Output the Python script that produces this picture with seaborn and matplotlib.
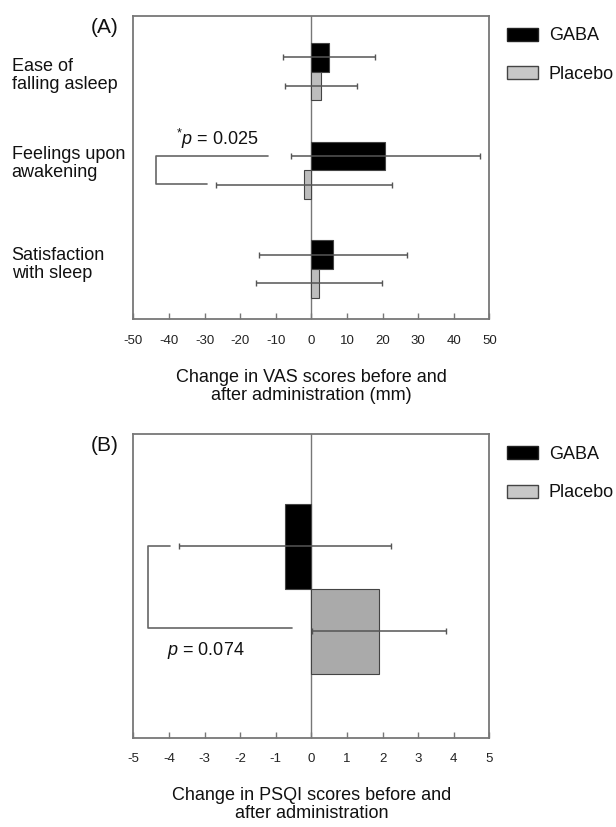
import pandas as pd
import matplotlib.pyplot as plt
import matplotlib.transforms as mtransforms
import seaborn as sns
from matplotlib.patches import Patch

# Panel A: VAS scores (mm)
vas_items = ["Ease of\nfalling asleep", "Feelings upon\nawakening", "Satisfaction\nwith sleep"]
vas_gaba = [5.0, 20.8, 6.1]
vas_gaba_sd = [13.0, 26.5, 20.9]
vas_placebo = [2.7, -2.1, 2.2]
vas_placebo_sd = [10.0, 24.7, 17.7]

# Panel B: PSQI scores
psqi_gaba = -0.74
psqi_gaba_sd = 2.98
psqi_placebo = 1.9
psqi_placebo_sd = 1.87

groups = ["GABA", "Placebo"]

sns.set_theme(style="white")
plt.rcParams['font.family'] = ['Liberation Sans', 'DejaVu Sans']
plt.rcParams['mathtext.fontset'] = 'custom'
plt.rcParams['mathtext.rm'] = 'Liberation Sans'
plt.rcParams['mathtext.it'] = 'Liberation Sans:italic'
plt.rcParams['text.color'] = '#111111'
plt.rcParams['axes.labelcolor'] = '#111111'
plt.rcParams['xtick.color'] = '#222222'
plt.rcParams['ytick.color'] = '#111111'

vas_df = pd.DataFrame({
    "item": vas_items * 2,
    "group": ["GABA"] * 3 + ["Placebo"] * 3,
    "change": vas_gaba + vas_placebo,
})
psqi_df = pd.DataFrame({
    "item": ["PSQI", "PSQI"],
    "group": groups,
    "change": [psqi_gaba, psqi_placebo],
})

fig = plt.figure(figsize=(6.16, 8.27), dpi=100)
ax1 = fig.add_axes([0.2164, 0.6139, 0.578, 0.3668])
ax2 = fig.add_axes([0.2164, 0.1080, 0.578, 0.3669])

edge = '#444444'
grey = '#777777'


def style_axis(ax, lim, ticks, xlabel):
    ax.axvline(0, color=grey, lw=1, zorder=1)
    ax.set_xlim(-lim, lim)
    ax.set_xticks(ticks)
    ax.set_xticklabels([str(t) for t in ticks], fontsize=9.5)
    ax.tick_params(axis='x', direction='in', length=4, width=1, color=grey, pad=11, bottom=True)
    for s in ax.spines.values():
        s.set_color(grey)
        s.set_linewidth(1.3)
    ax.set_xlabel(xlabel, fontsize=13, labelpad=16, linespacing=1.1)
    if ax.get_legend() is not None:
        ax.get_legend().remove()
    handles = [Patch(facecolor='black', edgecolor='#222222'),
               Patch(facecolor='#c8c8c8', edgecolor=edge)]
    ax.legend(handles, groups, loc='upper left', bbox_to_anchor=(1.049, 0.962),
              frameon=False, fontsize=13, borderpad=0, borderaxespad=0,
              handlelength=1.72, handleheight=0.72, handletextpad=0.6, labelspacing=1.2)


def add_errorbars(ax, means, sds):
    for container, m, s in zip(ax.containers, means, sds):
        ys = [b.get_y() + b.get_height() / 2 for b in container]
        ax.errorbar(m, ys, xerr=s, fmt='none', ecolor='#555555', elinewidth=1.1,
                    capsize=2, capthick=1, zorder=3)


# ---- Panel A ----
sns.barplot(data=vas_df, x="change", y="item", hue="group", orient='h',
            palette=['black', '#bdbdbd'], width=0.58, errorbar=None,
            edgecolor=edge, linewidth=0.8, ax=ax1, zorder=2)
add_errorbars(ax1, [vas_gaba, vas_placebo], [vas_gaba_sd, vas_placebo_sd])
style_axis(ax1, 50, list(range(-50, 51, 10)),
           "Change in VAS scores before and\nafter administration (mm)")
ax1.set_ylim(2.51, -0.565)
ax1.set_ylabel("")
ax1.tick_params(axis='y', length=0, pad=87.6)
# nudge the multi-line category labels up a little, as in the original
label_shift = [-1, 7, 5]
for lab, dy in zip(ax1.get_yticklabels(), label_shift):
    lab.set_horizontalalignment('left')
    lab.set_fontsize(13)
    lab.set_linespacing(1.1)
    lab.set_transform(lab.get_transform() + mtransforms.ScaledTranslation(0, dy / 72, fig.dpi_scale_trans))

ax1.plot([-12.2, -43.5, -43.5, -29.3], [0.854, 0.854, 1.137, 1.137], color='#666666', lw=1.2)
ax1.text(-37.9, 0.683, r"$^{*}\mathit{p}$ = 0.025", fontsize=13, va='center', ha='left')
ax1.text(-0.0795, 0.962, "(A)", transform=ax1.transAxes, fontsize=15, ha='center', va='center')

# ---- Panel B ----
sns.barplot(data=psqi_df, x="change", y="item", hue="group", orient='h',
            palette=['black', '#aaaaaa'], width=0.8, errorbar=None,
            edgecolor=edge, linewidth=0.8, ax=ax2, zorder=2)
add_errorbars(ax2, [[psqi_gaba], [psqi_placebo]], [[psqi_gaba_sd], [psqi_placebo_sd]])
style_axis(ax2, 5, list(range(-5, 6)),
           "Change in PSQI scores before and\nafter administration")
ax2.set_ylim(0.70, -0.728)
ax2.set_ylabel("")
ax2.set_yticks([])

ax2.plot([-3.96, -4.6, -4.6, -0.53], [-0.202, -0.202, 0.185, 0.185], color='#666666', lw=1.2)
ax2.text(-4.04, 0.292, r"$\mathit{p}$ = 0.074", fontsize=13, va='center', ha='left')
ax2.text(-0.0795, 0.962, "(B)", transform=ax2.transAxes, fontsize=15, ha='center', va='center')

fig.savefig("out.png", dpi=100)
